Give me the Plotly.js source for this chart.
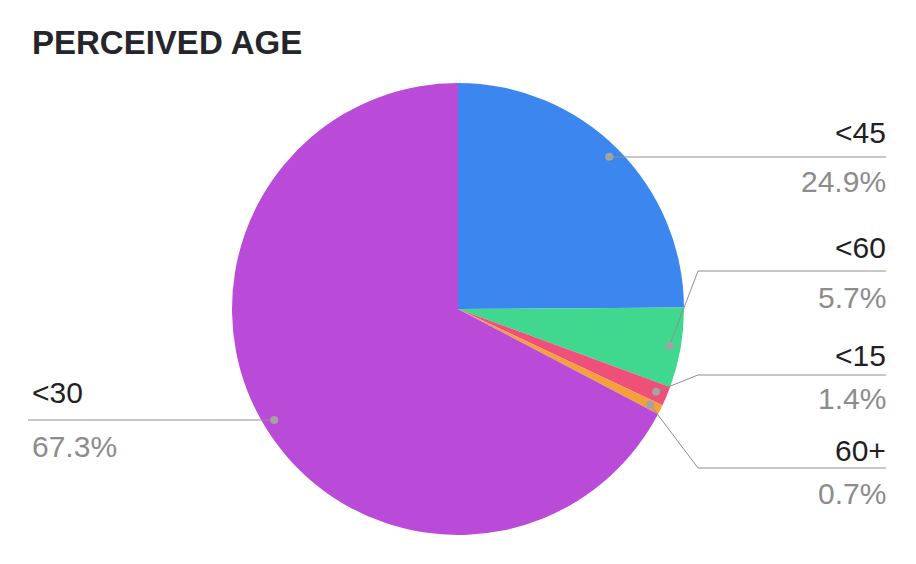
<!DOCTYPE html>
<html>
<head>
<meta charset="utf-8">
<script src="https://cdn.plot.ly/plotly-3.0.1.min.js"></script>
<style>html,body{margin:0;padding:0;background:#fff;}#chart{width:916px;height:564px;}</style>
</head>
<body>
<div id="chart"></div>
<script>
// ---- data ----
const categories = ["<45", "<60", "<15", "60+", "<30"];
const values = [24.9, 5.7, 1.4, 0.7, 67.3];
const percentLabels = ["24.9%", "5.7%", "1.4%", "0.7%", "67.3%"];
const colors = ["#3C87EF", "#3FD88E", "#EF507A", "#F4A13C", "#BA4BD9"];

// ---- layout constants ----
const W = 916, H = 564;
const cx = 458, cy = 309, R = 226;
const dotFrac = 0.95;
const labelSide = ["right", "right", "right", "right", "left"];
const leaderY = [157, 271, 375, 468, 420];
const nameOffset = [-25, -24, -20, -18, -28];
const pctOffset = [24, 26, 23, 25, 26];
const rightEnd = 886, elbowX = 698, leftEnd = 28;
const FONT = "Liberation Sans, Arial, Helvetica, sans-serif";
const labelSize = 30;

const px = x => x / W;
const py = y => 1 - y / H;

const total = values.reduce((a, b) => a + b, 0);
const shapes = [], annotations = [];
let cum = 0;
values.forEach((v, i) => {
  const mid = (cum + v / 2) / total * 2 * Math.PI;
  cum += v;
  const dx = cx + Math.sin(mid) * R * dotFrac;
  const dy = cy - Math.cos(mid) * R * dotFrac;
  const ly = leaderY[i];
  const lineStyle = {color: "#8f8f8f", width: 1};
  let tx, anchor;
  if (labelSide[i] === "right") {
    const ex = Math.abs(ly - dy) < 2 ? dx : elbowX;
    if (ex !== dx) shapes.push({type: "line", xref: "paper", yref: "paper", x0: px(dx), y0: py(dy), x1: px(ex), y1: py(ly), line: lineStyle});
    shapes.push({type: "line", xref: "paper", yref: "paper", x0: px(ex), y0: py(ly), x1: px(rightEnd), y1: py(ly), line: lineStyle});
    tx = rightEnd + 2; anchor = "right";
  } else {
    shapes.push({type: "line", xref: "paper", yref: "paper", x0: px(dx), y0: py(dy), x1: px(leftEnd), y1: py(ly), line: lineStyle});
    tx = leftEnd + 2; anchor = "left";
  }
  annotations.push({xref: "paper", yref: "paper", x: px(tx), y: py(ly + nameOffset[i]), xanchor: anchor, yanchor: "middle", text: categories[i], showarrow: false, font: {family: FONT, size: labelSize, color: "#1f1f24"}});
  annotations.push({xref: "paper", yref: "paper", x: px(tx), y: py(ly + pctOffset[i]), xanchor: anchor, yanchor: "middle", text: percentLabels[i], showarrow: false, font: {family: FONT, size: labelSize, color: "#8c8c8c"}});
  shapes.push({type: "circle", xref: "paper", yref: "paper", x0: px(dx - 4), y0: py(dy - 4), x1: px(dx + 4), y1: py(dy + 4), fillcolor: "#a3a3a3", line: {width: 0}});
});

const trace = {
  type: "pie",
  labels: categories,
  values: values,
  sort: false,
  direction: "clockwise",
  rotation: 0,
  marker: {colors: colors, line: {width: 0}},
  textinfo: "none",
  hoverinfo: "skip",
  showlegend: false,
  domain: {x: [px(cx - R), px(cx + R)], y: [py(cy + R), py(cy - R)]}
};

const layout = {
  width: W, height: H,
  margin: {l: 0, r: 0, t: 0, b: 0},
  paper_bgcolor: "#ffffff",
  title: {text: "<b>PERCEIVED AGE</b>", x: px(32), xanchor: "left", y: py(42), yanchor: "middle", xref: "paper", yref: "paper",
          font: {family: FONT, size: 33, color: "#25252b"}},
  shapes: shapes,
  annotations: annotations
};

Plotly.newPlot("chart", [trace], layout, {displayModeBar: false, staticPlot: true});
</script>
</body>
</html>
